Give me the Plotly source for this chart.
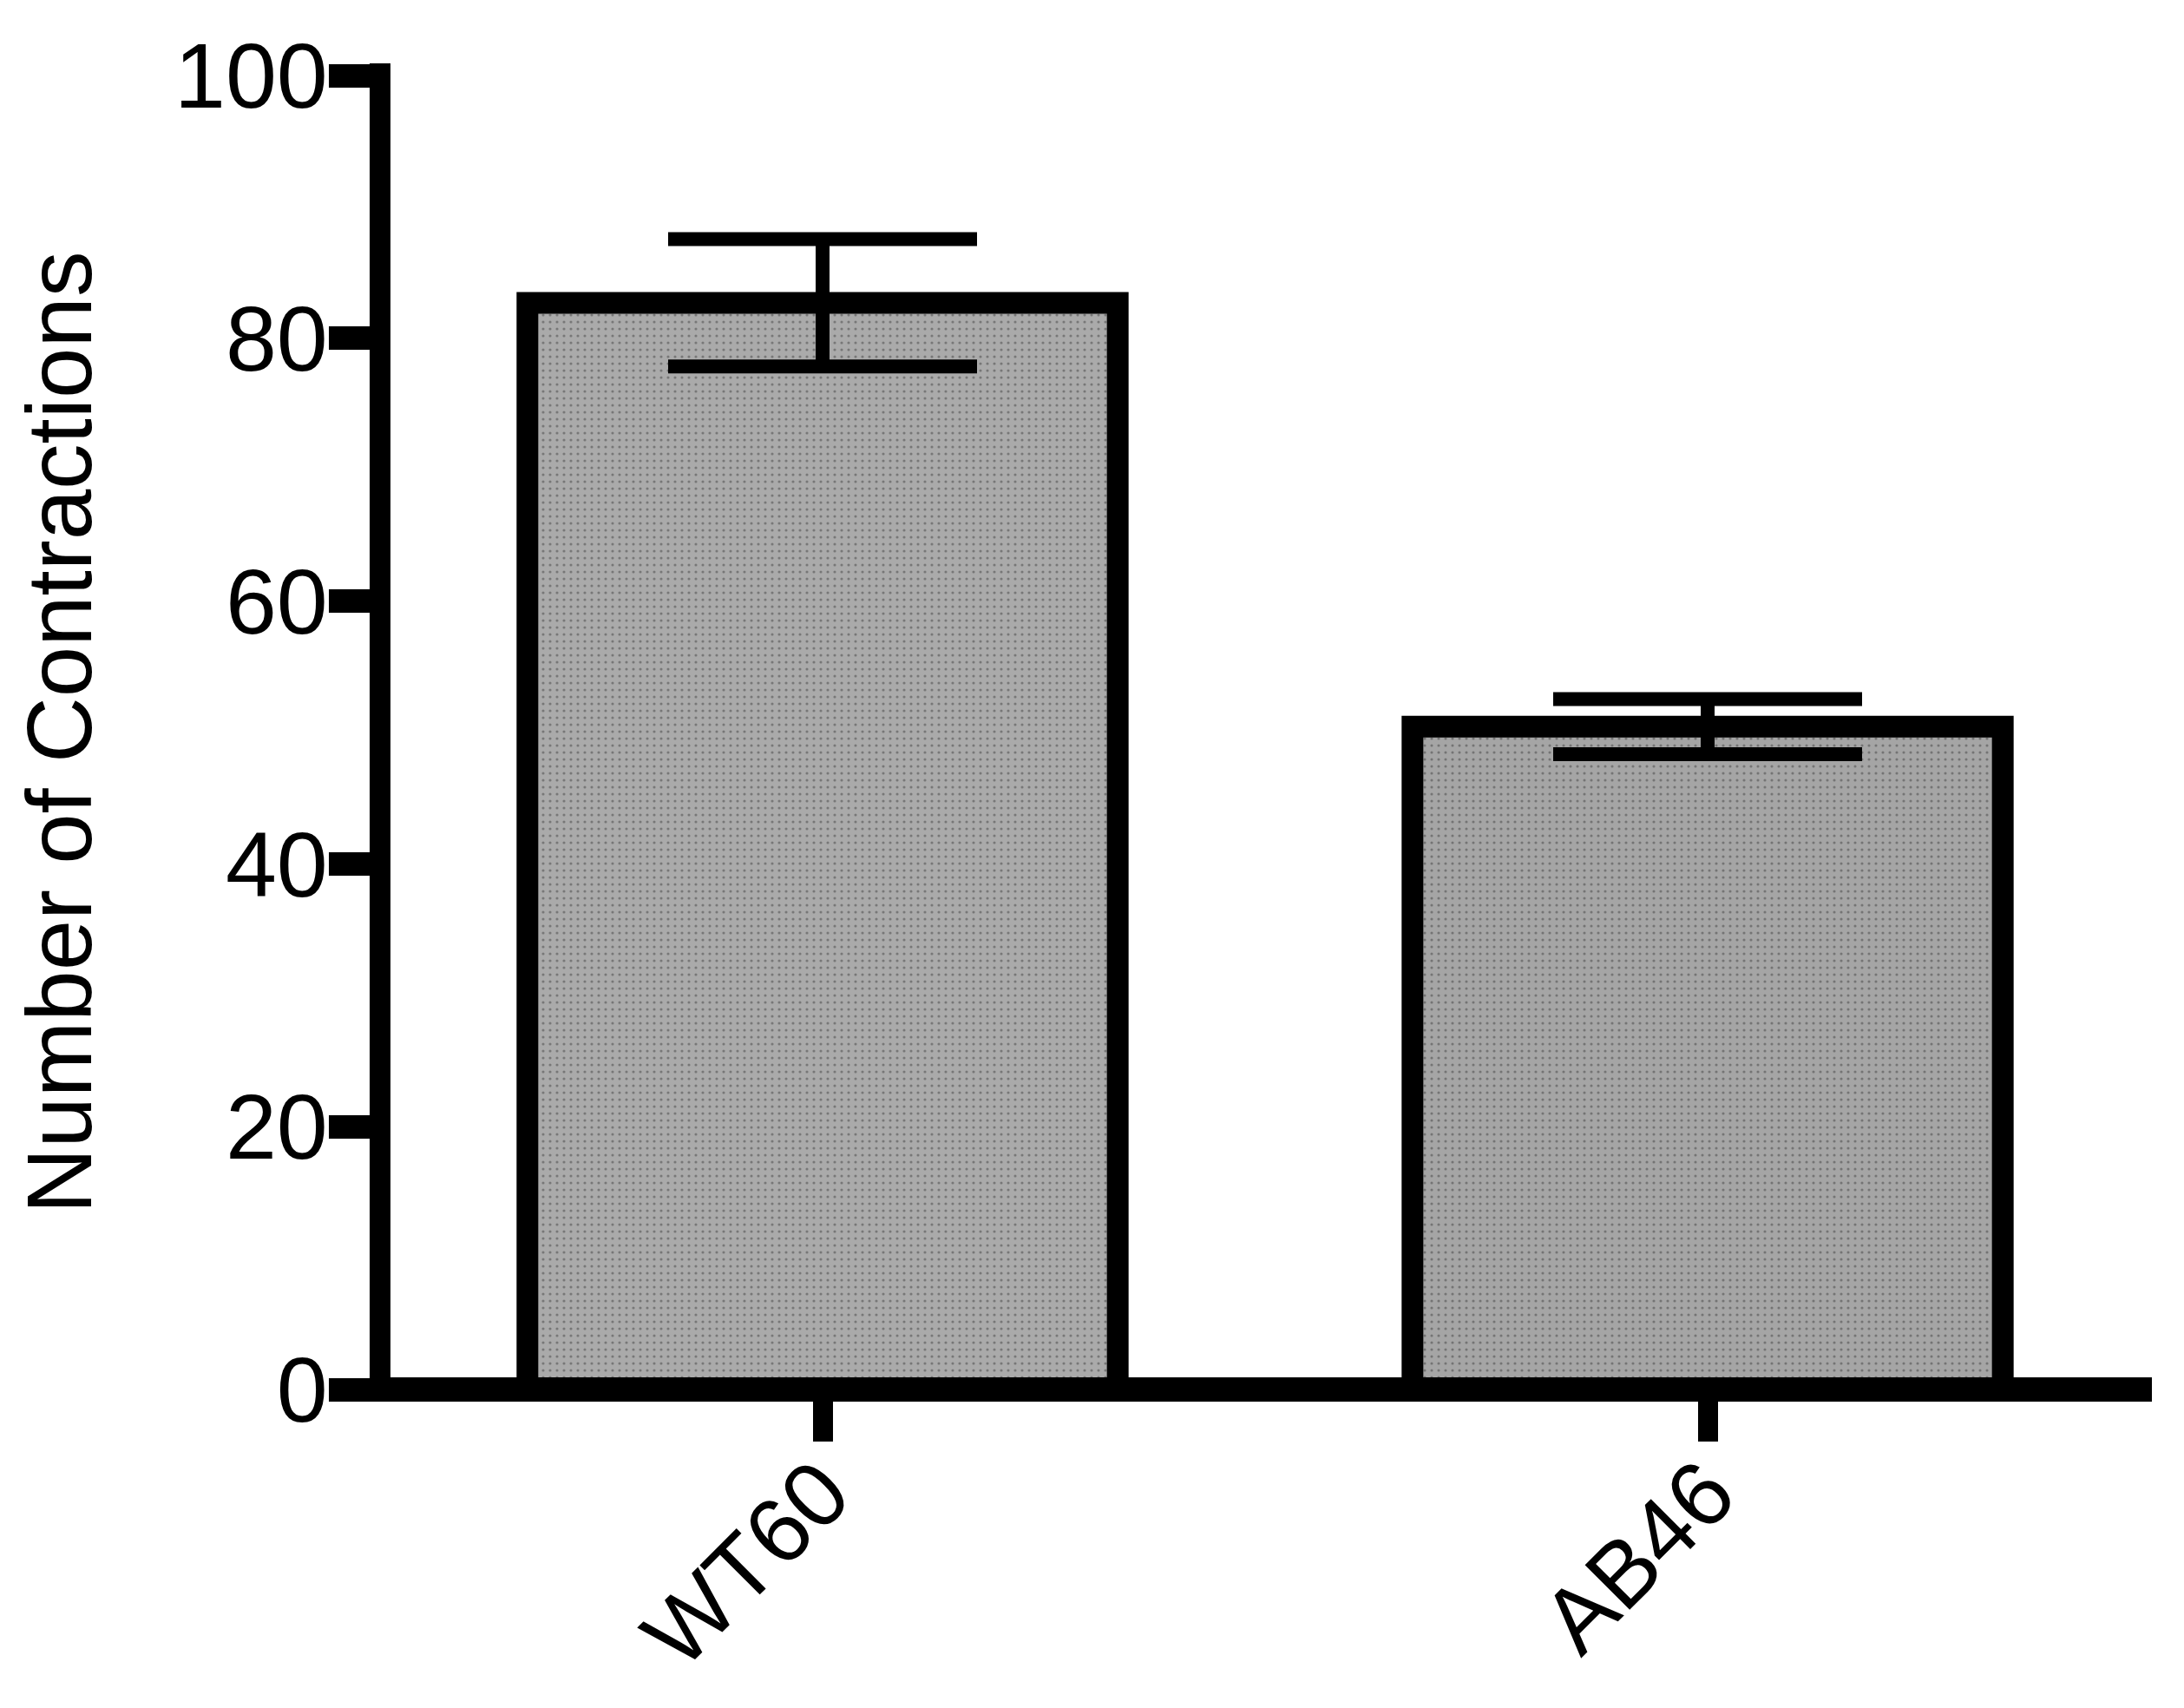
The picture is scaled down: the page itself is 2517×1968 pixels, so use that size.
import plotly.graph_objects as go

categories = ["WT60", "AB46"]
means = [82.7, 50.45]
errors = [4.85, 2.1]
fill_colors = ["#aaaaaa", "#a5a5a5"]
y_ticks = [0, 20, 40, 60, 80, 100]
y_title = "Number of Contractions"

FONT = "Liberation Sans, Arial, Helvetica, sans-serif"

fig = go.Figure()
fig.add_trace(go.Bar(
    x=categories,
    y=means,
    width=0.667,
    marker=dict(
        color=fill_colors,
        line=dict(color="black", width=25),
        pattern=dict(shape=".", fgcolor="#b8b8b8", bgcolor=fill_colors, size=8, solidity=0.12),
    ),
    error_y=dict(type="data", array=errors, visible=True, color="black", thickness=16, width=178),
    showlegend=False,
))

W, H = 2517, 1968
L, R, T, B = 438, 39, 87, 367
pw, ph = W - L - R, H - T - B

# axis lines (decoration)
fig.add_shape(type="line", xref="paper", yref="paper", x0=0, x1=0,
              y0=-14 / ph, y1=1 + 14 / ph, line=dict(color="black", width=24), layer="above")
fig.add_shape(type="line", xref="paper", yref="paper", x0=-12 / pw, x1=1 + 2 / pw,
              y0=0, y1=0, line=dict(color="black", width=28), layer="above")

fig.update_layout(
    width=W, height=H,
    margin=dict(l=L, r=R, t=T, b=B, autoexpand=False),
    plot_bgcolor="white", paper_bgcolor="white",
    font=dict(family=FONT, color="black"),
    bargap=0.333,
)
fig.update_xaxes(
    range=[-0.5, 1.5], showline=False, showgrid=False, zeroline=False,
    ticks="outside", ticklen=59, tickwidth=23, tickcolor="black",
    tickangle=-45, tickfont=dict(size=106, family=FONT, color="black"),
    ticklabelstandoff=-45,
    automargin=False,
)
fig.update_yaxes(
    range=[0, 100], tickvals=y_ticks, showline=False, showgrid=False, zeroline=False,
    ticks="outside", ticklen=58, tickwidth=27, tickcolor="black",
    tickfont=dict(size=106, family=FONT, color="black"),
    ticklabelstandoff=-20,
    title=dict(text=y_title, font=dict(size=105, family=FONT, color="black"), standoff=60),
    automargin=False,
)

fig.write_html("out.html", config={"displayModeBar": False},
               post_script="document.body.style.margin='0';")
